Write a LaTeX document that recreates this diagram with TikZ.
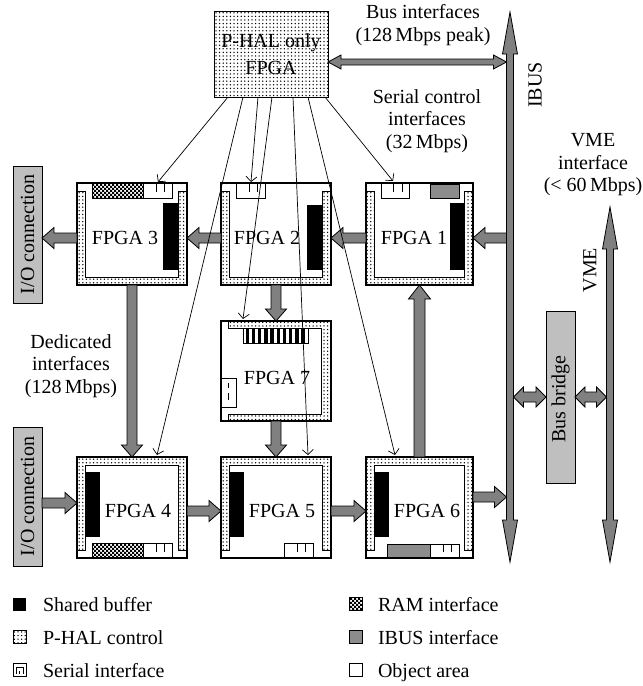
\documentclass[tikz,border=0pt]{standalone}
\usepackage{fontspec}
\setmainfont{Liberation Serif}
\usetikzlibrary{calc,patterns,arrows.meta}
\pgfdeclarepatternformonly{mydots}{\pgfqpoint{-1pt}{-1pt}}{\pgfqpoint{1pt}{1pt}}{\pgfqpoint{3.6pt}{3.6pt}}{\pgfpathcircle{\pgfqpoint{0pt}{0pt}}{.75pt}\pgfusepath{fill}}
\pgfdeclarepatternformonly{mychecker}{\pgfqpoint{-.05pt}{-.05pt}}{\pgfqpoint{4.05pt}{4.05pt}}{\pgfqpoint{4pt}{4pt}}{\pgfpathrectangle{\pgfqpoint{0pt}{0pt}}{\pgfqpoint{2pt}{2pt}}\pgfpathrectangle{\pgfqpoint{2pt}{2pt}}{\pgfqpoint{2pt}{2pt}}\pgfusepath{fill}}
\definecolor{agray}{gray}{0.5}
\definecolor{lgray}{gray}{0.75}
\definecolor{igray}{gray}{0.55}
\tikzset{
 dotfill/.style={fill=white, postaction={pattern=mydots}},
 checkfill/.style={fill=white, postaction={pattern=mychecker}},
 barrow/.style={fill=agray, draw=black, line width=0.8pt, line join=miter},
 frame/.style={draw=black, line width=1.2pt},
 strip/.style={dotfill, draw=black, line width=0.8pt},
 part/.style={draw=black, line width=0.8pt},
 ctl/.style={line width=0.7pt, -{Straight Barb[length=5pt,width=11pt]}},
 lab/.style={font=\fontsize{20}{22.5}\selectfont, align=center},
}
\newcommand\blockarrow[5]{%
  \draw[barrow] let \p1=(#1), \p2=(#2),
    \n1={veclen(\x2-\x1,\y2-\y1)},
    \n2={(\x2-\x1)/\n1}, \n3={(\y2-\y1)/\n1}, \n4={\n1-#5} in
    ({\x1-#3*\n3},{\y1+#3*\n2}) --
    ({\x1+\n4*\n2-#3*\n3},{\y1+\n4*\n3+#3*\n2}) --
    ({\x1+\n4*\n2-#4*\n3},{\y1+\n4*\n3+#4*\n2}) --
    (\p2) --
    ({\x1+\n4*\n2+#4*\n3},{\y1+\n4*\n3-#4*\n2}) --
    ({\x1+\n4*\n2+#3*\n3},{\y1+\n4*\n3-#3*\n2}) --
    ({\x1+#3*\n3},{\y1-#3*\n2}) -- cycle;}
\newcommand\dblarrow[5]{%
  \draw[barrow] let \p1=(#1), \p2=(#2),
    \n1={veclen(\x2-\x1,\y2-\y1)},
    \n2={(\x2-\x1)/\n1}, \n3={(\y2-\y1)/\n1}, \n4={\n1-#5} in
    (\p1) --
    ({\x1+#5*\n2-#4*\n3},{\y1+#5*\n3+#4*\n2}) --
    ({\x1+#5*\n2-#3*\n3},{\y1+#5*\n3+#3*\n2}) --
    ({\x1+\n4*\n2-#3*\n3},{\y1+\n4*\n3+#3*\n2}) --
    ({\x1+\n4*\n2-#4*\n3},{\y1+\n4*\n3+#4*\n2}) --
    (\p2) --
    ({\x1+\n4*\n2+#4*\n3},{\y1+\n4*\n3-#4*\n2}) --
    ({\x1+\n4*\n2+#3*\n3},{\y1+\n4*\n3-#3*\n2}) --
    ({\x1+#5*\n2+#3*\n3},{\y1+#5*\n3-#3*\n2}) --
    ({\x1+#5*\n2+#4*\n3},{\y1+#5*\n3-#4*\n2}) -- cycle;}
\newcommand\serialbox[4]{%
  \draw[part, fill=white] (#1,#2) rectangle (#3,#4);
  \draw[line width=0.7pt] ({#1+0.45*(#3-#1)},#2) -- ({#1+0.45*(#3-#1)},{#2+0.6*(#4-#2)})
    ({#1+0.75*(#3-#1)},#2) -- ({#1+0.75*(#3-#1)},{#2+0.6*(#4-#2)});}
\newcommand\fpgaopentop[4]{%
  \fill[white] (#1,#2) rectangle (#3,#4);
  \draw[strip] (#1,#2+8) -- (#1+8,#2+8) -- (#1+8,#4-8) -- (#3-9,#4-8) -- (#3-9,#2+8) -- (#3,#2+8) -- (#3,#4) -- (#1,#4) -- cycle;}
\newcommand\fpgaopenbottom[4]{%
  \fill[white] (#1,#2) rectangle (#3,#4);
  \draw[strip] (#1,#4-8) -- (#1,#2) -- (#3,#2) -- (#3,#4-8) -- (#3-9,#4-8) -- (#3-9,#2+8) -- (#1+8,#2+8) -- (#1+8,#4-8) -- cycle;}
\begin{document}
\begin{tikzpicture}[x=1pt,y=-1pt, every node/.style={inner sep=0pt, outer sep=0pt}]
\useasboundingbox (0,0) rectangle (643,686);
% buses
\coordinate (ibT) at (510,12); \coordinate (ibB) at (510,562);
\coordinate (vmT) at (610,207); \coordinate (vmB) at (610,562);
\dblarrow{ibT}{ibB}{3.5}{7.5}{42}
\dblarrow{vmT}{vmB}{3.5}{7.5}{42}
\coordinate (ibA) at (506.5,62);
\coordinate (ibC) at (513.5,397);
\coordinate (vmC) at (606.5,397);
\coordinate (ibD) at (506.5,238);
\coordinate (ibE) at (506.5,497);

% FPGA 3
\fpgaopentop{77}{183}{187}{285}
\fill[black] (163,203) rectangle (178,270);
\draw[part, checkfill] (92,183) rectangle (143,198);
\serialbox{143}{183}{172}{198}
\node[frame, minimum width=110pt, minimum height=102pt] (f3) at (132,234) {};
% FPGA 2
\fpgaopentop{221}{183}{331}{285}
\fill[black] (307,205) rectangle (322,270);
\serialbox{236}{183}{265}{198}
\node[frame, minimum width=110pt, minimum height=102pt] (f2) at (276,234) {};
% FPGA 1
\fpgaopentop{366}{183}{473}{285}
\fill[black] (450,203) rectangle (464,270);
\serialbox{381}{183}{409}{198}
\draw[part, fill=igray] (430,184) rectangle (459,198);
\node[frame, minimum width=107pt, minimum height=102pt] (f1) at (419.5,234) {};
% FPGA 7
\fill[white] (221,321) rectangle (331,421);
\draw[strip] (228,321) -- (331,321) -- (331,421) -- (228,421) -- (228,414) -- (321,414) -- (321,328) -- (228,328) -- cycle;
\draw[part, fill=white] (243,328) rectangle (308,343);
\foreach \i in {0,...,9} \fill[black] (245.5+\i*6.2,328) rectangle +(3.4,15);
\draw[part, fill=white] (221,378) rectangle (236,407);
\draw[line width=0.8pt] (228.5,383) -- (228.5,388) (228.5,393) -- (228.5,400);
\node[frame, minimum width=110pt, minimum height=100pt] (f7) at (276,371) {};
% FPGA 4
\fpgaopenbottom{77}{457}{187}{558}
\fill[black] (85,472) rectangle (100,537);
\draw[part, checkfill] (92,543) rectangle (143,558);
\serialbox{143}{543}{172}{558}
\node[frame, minimum width=110pt, minimum height=101pt] (f4) at (132,507.5) {};
% FPGA 5
\fpgaopenbottom{221}{457}{331}{558}
\fill[black] (229,472) rectangle (244,537);
\serialbox{284}{543}{313}{558}
\node[frame, minimum width=110pt, minimum height=101pt] (f5) at (276,507.5) {};
% FPGA 6
\fpgaopenbottom{366}{457}{473}{558}
\fill[black] (374,472) rectangle (389,537);
\draw[part, fill=igray] (387,544) rectangle (430,558);
\serialbox{430}{544}{459}{558}
\node[frame, minimum width=107pt, minimum height=101pt] (f6) at (419.5,507.5) {};

% P-HAL only FPGA
\node[draw, line width=1pt, dotfill, minimum width=114pt, minimum height=86pt, align=center, font=\fontsize{20}{27}\selectfont] (phal) at (271,54) {P-HAL only\\FPGA};
% I/O boxes
\node[draw, fill=lgray, line width=0.8pt, minimum width=29pt, minimum height=137pt] (io1) at (27.5,234.5) {};
\node[lab, rotate=90] (io1t) at (27.5,234.5) {I/O connection};
\node[draw, fill=lgray, line width=0.8pt, minimum width=29pt, minimum height=139pt] (io2) at (27.5,496.5) {};
\node[lab, rotate=90] (io2t) at (27.5,496.5) {I/O connection};
% Bus bridge
\node[draw, fill=lgray, line width=0.8pt, minimum width=29pt, minimum height=172pt] (bb) at (560.5,397) {};
\node[lab, rotate=90] (bbt) at (560.5,399) {Bus bridge};

% block arrows
\dblarrow{phal.east|-0,62}{ibA}{3}{7}{13}
\dblarrow{ibC}{bb.west}{5}{10}{10}
\dblarrow{bb.east}{vmC}{5}{10}{10}
\blockarrow{ibD}{f1.east|-0,238}{5}{10.5}{12}
\blockarrow{f1.west|-0,238}{f2.east|-0,238}{5}{10.5}{12}
\blockarrow{f2.west|-0,238}{f3.east|-0,238}{5}{10.5}{12}
\blockarrow{f3.west|-0,238}{io1.east|-0,238}{5}{10.5}{12}
\blockarrow{f3.south}{f4.north}{5}{10.5}{12}
\blockarrow{f2.south}{f7.north}{5}{10.5}{12}
\blockarrow{f7.south}{f5.north}{5}{10.5}{12}
\blockarrow{f6.north}{f1.south}{5.5}{11}{14}
\blockarrow{io2.east|-0,503}{f4.west|-0,503}{5}{10.5}{12}
\blockarrow{f4.east|-0,511}{f5.west|-0,511}{5}{10.5}{12}
\blockarrow{f5.east|-0,511}{f6.west|-0,511}{5}{10.5}{12}
\blockarrow{f6.east|-0,497}{ibE}{5}{10.5}{12}

% FPGA labels
\node[lab] (t3) at (125,238) {FPGA 3};
\node[lab] (t2) at (267,238) {FPGA 2};
\node[lab] (t1) at (414,238) {FPGA 1};
\node[lab] (t7) at (277,378) {FPGA 7};
\node[lab] (t4) at (138,511) {FPGA 4};
\node[lab] (t5) at (282,511) {FPGA 5};
\node[lab] (t6) at (427,511) {FPGA 6};

% control lines
\coordinate (p1) at (228,97); \coordinate (p2) at (243,97); \coordinate (p3) at (258,97);
\coordinate (p4) at (272,97); \coordinate (p5) at (293,97); \coordinate (p6) at (308,97);
\coordinate (p7) at (325,97);
\coordinate (c3) at (158,182); \coordinate (c4) at (157,455); \coordinate (c2) at (251,182);
\coordinate (c7) at (243,319); \coordinate (c5) at (308,455); \coordinate (c6) at (395,455);
\coordinate (c1) at (393,181);
\draw[ctl] (p1) -- (c3);
\draw[ctl] (p2) -- (c4);
\draw[ctl] (p3) -- (c2);
\draw[ctl] (p4) -- (c7);
\draw[ctl] (p5) -- (c5);
\draw[ctl] (p6) -- (c6);
\draw[ctl] (p7) -- (c1);

% text labels
\node[lab] (lbus) at (423,25) {Bus interfaces\\(128\,Mbps peak)};
\node[lab] (lser) at (427,121) {Serial control\\interfaces\\(32\,Mbps)};
\node[lab] (lvmei) at (593,165) {VME\\interface\\(< 60\,Mbps)};
\node[lab] (lded) at (71,366) {Dedicated\\interfaces\\(128\,Mbps)};
\node[lab, rotate=90] (libus) at (535,85) {IBUS};
\node[lab, rotate=90] (lvme) at (590,270) {VME};

% legend
\node[fill=black, minimum size=13pt] (g1) at (19.5,604) {};
\node[lab, anchor=base west] (g1t) at (43,611) {Shared buffer};
\node[draw, line width=0.8pt, dotfill, minimum size=13pt] (g2) at (19.5,637) {};
\node[lab, anchor=base west] (g2t) at (43,644) {P-HAL control};
\node[draw, line width=0.8pt, fill=white, minimum size=13pt] (g3) at (19.5,670) {};
\draw[line width=0.8pt] (g3.south west) ++(3,-3) -- ++(0,-6) -- ++(7,0) -- ++(0,6);
\draw[line width=0.8pt] (g3.south) ++(0,-3) -- ++(0,-3);
\node[lab, anchor=base west] (g3t) at (43,677) {Serial interface};
\node[draw, line width=0.8pt, checkfill, minimum size=13pt] (g4) at (355.5,604) {};
\node[lab, anchor=base west] (g4t) at (378,611) {RAM interface};
\node[draw, line width=0.8pt, fill=igray, minimum size=13pt] (g5) at (355.5,637) {};
\node[lab, anchor=base west] (g5t) at (378,644) {IBUS interface};
\node[draw, line width=0.8pt, fill=white, minimum size=13pt] (g6) at (355.5,670) {};
\node[lab, anchor=base west] (g6t) at (378,677) {Object area};
\end{tikzpicture}
\end{document}
